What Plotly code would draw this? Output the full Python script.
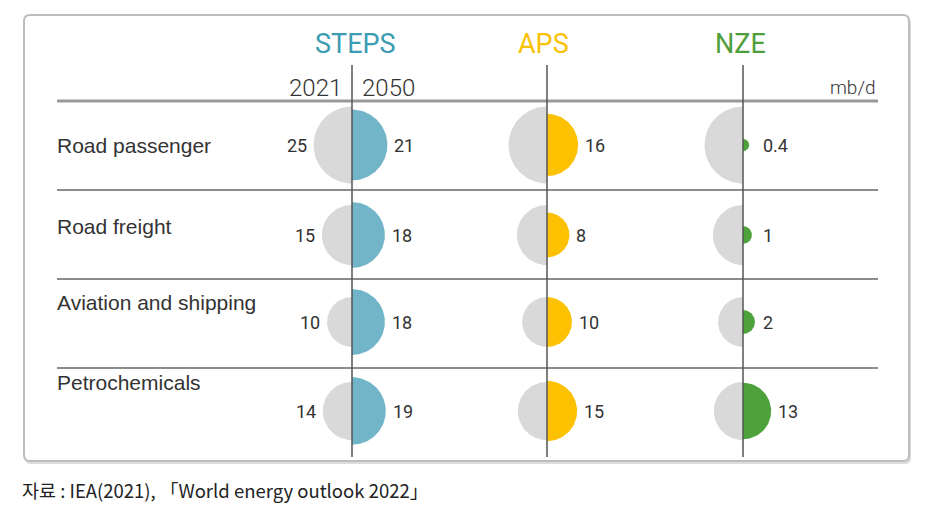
import numpy as np
import plotly.graph_objects as go

# ---------------- data ----------------
categories = ["Road passenger", "Road freight", "Aviation and shipping", "Petrochemicals"]
scenarios = ["STEPS", "APS", "NZE"]
values_2021 = [25, 15, 10, 14]
steps_2050 = [21, 18, 18, 19]
aps_2050 = [16, 8, 10, 15]
nze_2050 = [0.4, 1, 2, 13]
year_labels = ["2021", "2050"]
unit_label = "mb/d"
source_text = "자료 : IEA(2021), 「World energy outlook 2022」"

# ---------------- layout / style ----------------
W, H = 931, 514
col_x = [352, 547, 743]
title_dx = [3, -4, -3]
row_y = [145, 235, 322, 411]
row_label_y = [145, 226, 302, 382]
sep_y = [190, 279, 368]
header_y = 101
line_x0, line_x1 = 57, 878
vline_top, vline_bottom = 65, 457

scen_text_colors = ["#3b9cb3", "#f9c100", "#4f9e3c"]
scen_fill_colors = ["#72b5c8", "#fcc100", "#4ea23c"]
gray_fill = "#d9d9d9"
text_color = "#333333"
FONT = "Roboto, 'Liberation Sans', Arial, sans-serif"
LABEL_FONT = "'Liberation Sans', Arial, sans-serif"

series_2050 = [steps_2050, aps_2050, nze_2050]


def radius(v):
    return 1.5 + 7.4 * np.sqrt(v)


def fmt(v):
    return f"{v:g}"


def half_circle(cx, cy, r, side):
    if side == "left":
        th = np.linspace(np.pi / 2, 3 * np.pi / 2, 80)
    else:
        th = np.linspace(-np.pi / 2, np.pi / 2, 80)
    x = np.concatenate([cx + r * np.cos(th), [cx]])
    y = np.concatenate([cy - r * np.sin(th), [cy - r * np.sin(th[0])]])
    return x, y


fig = go.Figure()

for ci, scen in enumerate(scenarios):
    cx = col_x[ci]
    for ri, cat in enumerate(categories):
        cy = row_y[ri]
        r0 = radius(values_2021[ri])
        x, y = half_circle(cx, cy, r0, "left")
        fig.add_trace(go.Scatter(x=x, y=y, mode="lines", fill="toself",
                                 fillcolor=gray_fill, line=dict(width=0, color=gray_fill),
                                 hoverinfo="skip", showlegend=False))
        v = series_2050[ci][ri]
        r1 = radius(v)
        x, y = half_circle(cx, cy, r1, "right")
        fig.add_trace(go.Scatter(x=x, y=y, mode="lines", fill="toself",
                                 fillcolor=scen_fill_colors[ci],
                                 line=dict(width=0, color=scen_fill_colors[ci]),
                                 hoverinfo="skip", showlegend=False))
        # 2050 value label
        fig.add_annotation(x=cx + max(r1, 13) + 5, y=cy, text=fmt(v), showarrow=False,
                           xanchor="left", yanchor="middle",
                           font=dict(family=FONT, size=18, color=text_color))
        if ci == 0:
            fig.add_annotation(x=cx - r0 - 5, y=cy, text=fmt(values_2021[ri]), showarrow=False,
                               xanchor="right", yanchor="middle",
                               font=dict(family=FONT, size=18, color=text_color))

# row labels
for ri, cat in enumerate(categories):
    fig.add_annotation(x=line_x0 - 2, y=row_label_y[ri], text=cat, showarrow=False,
                       xanchor="left", yanchor="middle",
                       font=dict(family=LABEL_FONT, size=21, color=text_color))

# scenario titles
for ci, scen in enumerate(scenarios):
    fig.add_annotation(x=col_x[ci] + title_dx[ci], y=44, text=scen, showarrow=False,
                       xanchor="center", yanchor="middle",
                       font=dict(family=FONT, size=27, color=scen_text_colors[ci]))

# year labels
fig.add_annotation(x=col_x[0] - 8, y=88, text=year_labels[0], showarrow=False,
                   xanchor="right", yanchor="middle",
                   font=dict(family=FONT, size=24, color=text_color, weight=300))
fig.add_annotation(x=col_x[0] + 8, y=88, text=year_labels[1], showarrow=False,
                   xanchor="left", yanchor="middle",
                   font=dict(family=FONT, size=24, color=text_color, weight=300))
fig.add_annotation(x=line_x1, y=87, text=unit_label, showarrow=False,
                   xanchor="right", yanchor="middle",
                   font=dict(family=FONT, size=19, color=text_color, weight=300))

# source
fig.add_annotation(x=20, y=490, text=source_text, showarrow=False,
                   xanchor="left", yanchor="middle",
                   font=dict(family="'Noto Sans CJK KR', sans-serif", size=18.5, color="#222222"))

shapes = []


def rrect(x0, y0, x1, y1, r):
    return (f"M {x0+r},{y0} L {x1-r},{y0} Q {x1},{y0} {x1},{y0+r} L {x1},{y1-r} "
            f"Q {x1},{y1} {x1-r},{y1} L {x0+r},{y1} Q {x0},{y1} {x0},{y1-r} "
            f"L {x0},{y0+r} Q {x0},{y0} {x0+r},{y0} Z")


shapes.append(dict(type="path", path=rrect(25, 17, 911, 464, 6), xref="x", yref="y",
                   fillcolor="#dddddd", line=dict(width=0), layer="below"))
shapes.append(dict(type="path", path=rrect(24, 15, 909, 461, 6), xref="x", yref="y",
                   fillcolor="white", line=dict(color="#bdbdbd", width=2), layer="below"))
# header line
shapes.append(dict(type="line", x0=line_x0, x1=line_x1, y0=header_y, y1=header_y,
                   xref="x", yref="y", line=dict(color="#999999", width=3)))
for sy in sep_y:
    shapes.append(dict(type="line", x0=line_x0, x1=line_x1, y0=sy, y1=sy,
                       xref="x", yref="y", line=dict(color="#666666", width=1.5)))
for cx in col_x:
    shapes.append(dict(type="line", x0=cx, x1=cx, y0=vline_top, y1=vline_bottom,
                       xref="x", yref="y", line=dict(color="#555555", width=1.5)))

fig.update_layout(
    width=W, height=H, autosize=False,
    margin=dict(l=0, r=0, t=0, b=0),
    paper_bgcolor="white", plot_bgcolor="white",
    xaxis=dict(range=[0, W], visible=False, fixedrange=True),
    yaxis=dict(range=[H, 0], visible=False, fixedrange=True),
    shapes=shapes,
    showlegend=False,
)

fig.write_html("out.html", config={"displayModeBar": False})
